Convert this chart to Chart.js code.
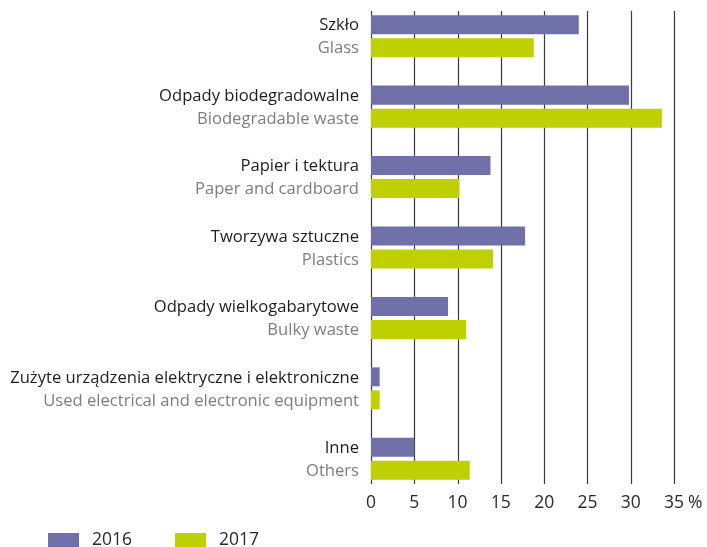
<!DOCTYPE html>
<html lang="pl">
  <head>
    <meta charset="utf-8" />
    <script src="https://cdn.jsdelivr.net/npm/chart.js"></script>
    <style>
      html,
      body {
        margin: 0;
        padding: 0;
        background: #fff;
      }
      .canvas {
        width: 707px;
        height: 547px;
      }
    </style>
    <title>Odpady</title>
  </head>

  <body>
    <div class="canvas">
      <canvas id="myChart"></canvas>
    </div>

    <script>
      // kategorie (PL / EN)
      const labelsPl = [
        "Szkło",
        "Odpady biodegradowalne",
        "Papier i tektura",
        "Tworzywa sztuczne",
        "Odpady wielkogabarytowe",
        "Zużyte urządzenia elektryczne i elektroniczne",
        "Inne",
      ];
      const labelsEn = [
        "Glass",
        "Biodegradable waste",
        "Paper and cardboard",
        "Plastics",
        "Bulky waste",
        "Used electrical and electronic equipment",
        "Others",
      ];
      const years = ["2016", "2017"];
      const values2016 = [24.0, 29.8, 13.8, 17.8, 8.9, 1.0, 5.0];
      const values2017 = [18.8, 33.6, 10.2, 14.1, 11.0, 1.0, 11.4];
      const xTicks = [0, 5, 10, 15, 20, 25, 30, 35];

      const colors = ["#6f70a8", "#bfd000"];
      const fontName = "'Open Sans', sans-serif";

      // siatka, etykiety kategorii, znak % i legenda
      const decor = {
        id: "decor",
        beforeDatasetsDraw(chart) {
          const ctx = chart.ctx;
          const x = chart.scales.x;
          const area = chart.chartArea;
          ctx.save();
          ctx.strokeStyle = "#3a3a3a";
          ctx.lineWidth = 1.2;
          xTicks.forEach((v) => {
            const px = Math.round(x.getPixelForValue(v)) + 0.5;
            ctx.beginPath();
            ctx.moveTo(px, area.top + 10);
            ctx.lineTo(px, area.bottom - 10);
            ctx.stroke();
          });
          ctx.restore();
        },
        afterDraw(chart) {
          const ctx = chart.ctx;
          const x = chart.scales.x;
          const m0 = chart.getDatasetMeta(0).data;
          const m1 = chart.getDatasetMeta(1).data;
          const right = chart.chartArea.left - 12;
          ctx.save();
          ctx.textAlign = "right";
          ctx.textBaseline = "middle";
          ctx.font = "16.6px " + fontName;
          for (let i = 0; i < labelsPl.length; i++) {
            ctx.fillStyle = "#1e1e1e";
            ctx.fillText(labelsPl[i], right, m0[i].y + 1);
            ctx.fillStyle = "#7d7d7d";
            ctx.fillText(labelsEn[i], right, m1[i].y + 1);
          }

          // % po ostatniej wartości osi
          ctx.textAlign = "left";
          ctx.font = "17.5px " + fontName;
          ctx.fillStyle = "#2a2a2a";
          const last = xTicks[xTicks.length - 1];
          ctx.fillText("%", x.getPixelForValue(last) + 14, 503);

          // legenda
          const legendX = [48, 175];
          for (let i = 0; i < years.length; i++) {
            ctx.fillStyle = colors[i];
            ctx.fillRect(legendX[i], 533, 31, 14);
            ctx.fillStyle = "#2a2a2a";
            ctx.fillText(years[i], legendX[i] + 44, 540);
          }
          ctx.restore();
        },
      };

      const ctx = document.getElementById("myChart");
      window.myChart = new Chart(ctx, {
        type: "bar",
        plugins: [decor],
        data: {
          labels: labelsPl,
          datasets: [
            {
              label: years[0],
              data: values2016,
              backgroundColor: colors[0],
              categoryPercentage: 0.654,
              barPercentage: 0.826,
            },
            {
              label: years[1],
              data: values2017,
              backgroundColor: colors[1],
              categoryPercentage: 0.654,
              barPercentage: 0.826,
            },
          ],
        },
        options: {
          indexAxis: "y",
          responsive: true,
          maintainAspectRatio: false,
          animation: false,
          layout: {
            padding: { top: 1, right: 33, left: 0, bottom: 0 },
          },
          plugins: {
            legend: { display: false },
            tooltip: { enabled: false },
          },
          scales: {
            x: {
              min: 0,
              max: 35,
              afterBuildTicks(scale) {
                scale.ticks = xTicks.map((v) => ({ value: v }));
              },
              afterFit(scale) {
                scale.height = 53;
              },
              grid: { display: false, drawTicks: false },
              border: { display: false },
              ticks: {
                padding: -1,
                color: "#2a2a2a",
                font: { family: fontName, size: 17.5 },
              },
            },
            y: {
              afterFit(scale) {
                scale.width = 371;
              },
              grid: { display: false, drawTicks: false },
              border: { display: false },
              ticks: { display: false },
            },
          },
        },
      });
    </script>
  </body>
</html>
